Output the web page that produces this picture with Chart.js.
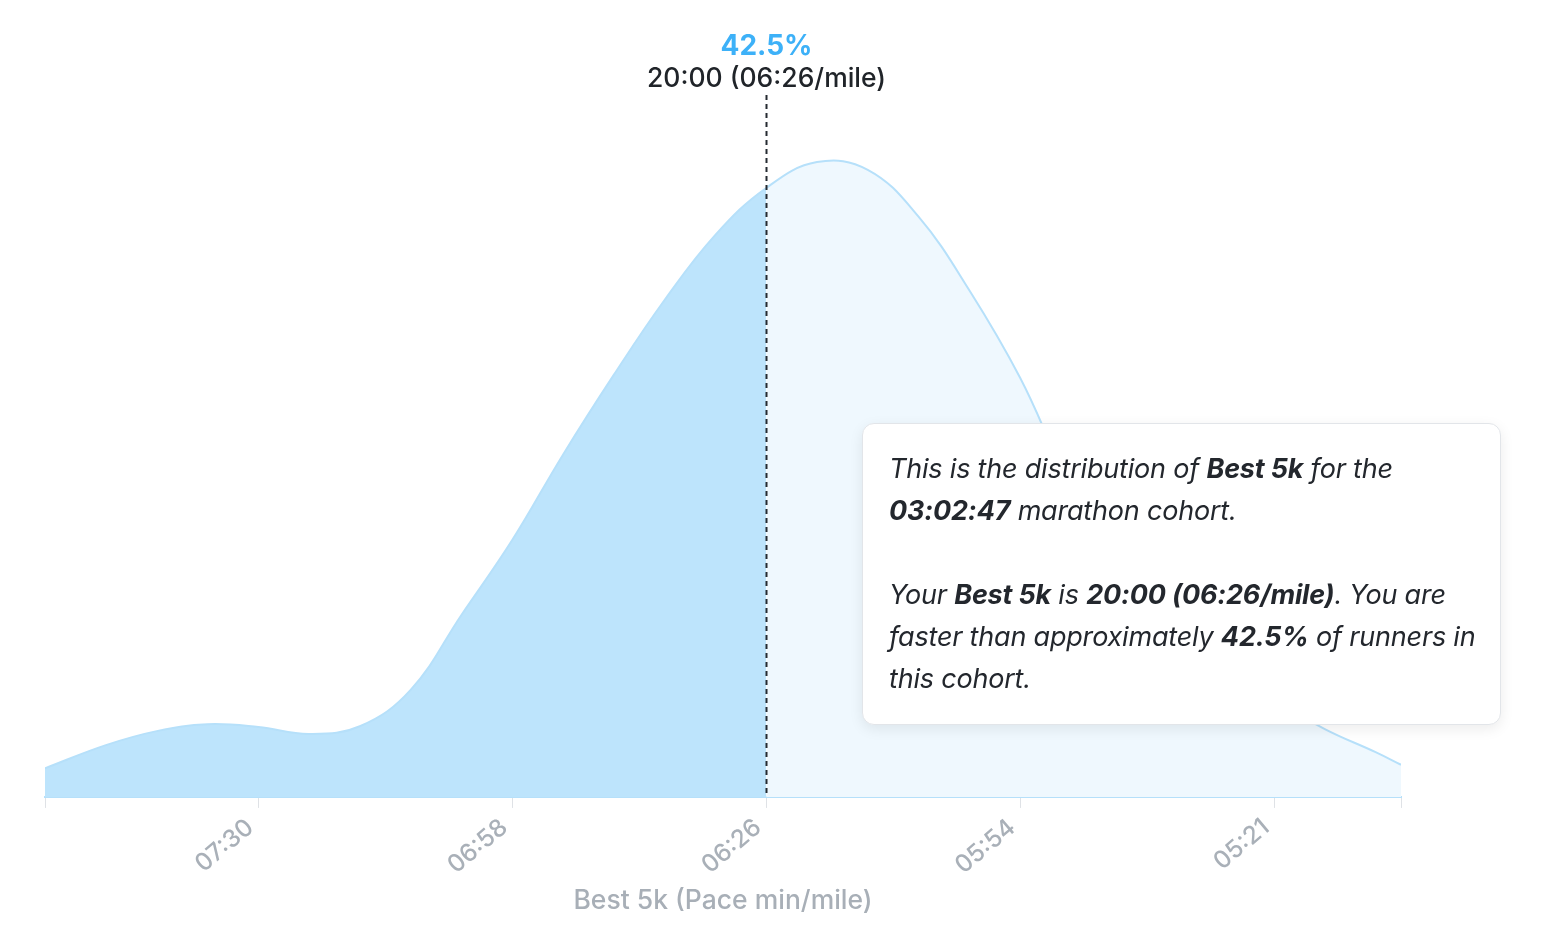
<!DOCTYPE html>
<html>
<head>
<meta charset="utf-8">
<script src="https://cdn.jsdelivr.net/npm/chart.js@4.4.1/dist/chart.umd.min.js"></script>
<style>
  body { margin: 0; background: #fff; font-family: Inter, "Noto Sans", sans-serif; }
  #wrap { position: relative; width: 1548px; height: 936px; }
  #note {
    position: absolute; left: 862px; top: 423px; width: 611px; height: 276px;
    padding: 24px 0 0 26px; background: #fff; border: 1px solid #e2e5e9;
    border-radius: 12px; box-shadow: 0 4px 14px rgba(0, 0, 0, 0.08);
    font-style: italic; font-size: 27px; line-height: 42px; color: #23272d;
    white-space: nowrap; box-sizing: content-box; letter-spacing: -0.2px;
  }
  #note b { font-weight: 700; }
</style>
</head>
<body>
<div id="wrap">
  <canvas id="chart"></canvas>
  <div id="note">
    This is the distribution of <b>Best 5k</b> for the<br>
    <b>03:02:47</b> marathon cohort.<br><br>
    Your <b>Best 5k</b> is <b>20:00 (06:26/mile)</b>. You are<br>
    faster than approximately <b>42.5%</b> of runners in<br>
    this cohort.
  </div>
</div>
<script>
// 5k finish time in seconds (x) and estimated density (y)
const times = [1484, 1460, 1440, 1420, 1400, 1380, 1360, 1340, 1320, 1300, 1280, 1260, 1240, 1220,
  1200, 1180, 1160, 1140, 1120, 1100, 1080, 1060, 1040, 1020, 1000, 980, 960, 950];
const density = [4.1, 7.4, 9.4, 10.4, 10.0, 9.0, 10.1, 15.3, 26.0, 36.7, 48.9, 60.3, 71.0, 80.3,
  87.0, 90.7, 89.6, 82.9, 72.4, 59.9, 44.6, 33.9, 25.3, 18.9, 13.9, 9.7, 6.4, 4.6];

const tickValues = [1484, 1400, 1300, 1200, 1100, 1000, 950];
const tickLabels = ["", "07:30", "06:58", "06:26", "05:54", "05:21", ""];

const myTime = 1200;
const myPercent = "42.5%";
const myLabel = "20:00 (06:26/mile)";

const darkFill = "#bde4fc";
const lightFill = "#eff8fe";
const lineColor = "#b6e0fa";

const points = times.map((t, i) => ({ x: t, y: density[i] }));
// vertical edges at both ends of the curve
const edges = [
  { x: times[0], y: 0 }, { x: times[0], y: density[0] },
  { x: myTime, y: null },
  { x: times[times.length - 1], y: density[density.length - 1] }, { x: times[times.length - 1], y: 0 },
];

const markerPlugin = {
  id: "marker",
  afterDatasetsDraw(chart) {
    const { ctx, chartArea, scales } = chart;
    const x = Math.round(scales.x.getPixelForValue(myTime)) + 0.5;
    ctx.save();
    ctx.strokeStyle = "#252a31";
    ctx.lineWidth = 2;
    ctx.setLineDash([5, 4]);
    ctx.beginPath();
    ctx.moveTo(x, 95);
    ctx.lineTo(x, chartArea.bottom);
    ctx.stroke();
    ctx.setLineDash([]);
    ctx.textAlign = "center";
    ctx.textBaseline = "middle";
    ctx.fillStyle = "#3db1f8";
    ctx.font = "bold 28px Inter";
    ctx.fillText(myPercent, x, 47);
    ctx.fillStyle = "#202429";
    ctx.font = "500 26.5px Inter";
    ctx.fillText(myLabel, x, 79);
    ctx.restore();
  },
};

new Chart(document.getElementById("chart"), {
  type: "line",
  data: {
    datasets: [
      {
        data: points,
        borderColor: lineColor,
        borderWidth: 2,
        backgroundColor: lightFill,
        fill: "origin",
        pointRadius: 0,
        tension: 0.4,
        segment: {
          backgroundColor: (c) => (c.p1.parsed.x >= myTime ? darkFill : lightFill),
        },
      },
      {
        data: edges,
        borderColor: lineColor,
        borderWidth: 2,
        fill: false,
        pointRadius: 0,
        tension: 0,
        spanGaps: false,
      },
    ],
  },
  options: {
    responsive: true,
    maintainAspectRatio: false,
    animation: false,
    events: [],
    layout: { padding: { left: 45, right: 147, top: 97, bottom: 19 } },
    plugins: { legend: { display: false }, tooltip: { enabled: false } },
    scales: {
      x: {
        type: "linear",
        reverse: true,
        min: 950,
        max: 1484,
        afterBuildTicks: (axis) => {
          axis.ticks = tickValues.map((v) => ({ value: v }));
        },
        border: { color: lineColor, width: 2 },
        grid: { drawOnChartArea: false, color: "#dfe2e6", tickLength: 11 },
        ticks: {
          autoSkip: false,
          minRotation: 40,
          maxRotation: 40,
          color: "#a9b0b8",
          font: { family: "Inter", size: 24.5, weight: "500" },
          padding: 5,
          labelOffset: -8,
          callback: (v) => tickLabels[tickValues.indexOf(v)] ?? "",
        },
        title: {
          display: true,
          text: "Best 5k (Pace min/mile)",
          color: "#a8afb7",
          font: { family: "Inter", size: 26.5, weight: "500" },
          padding: { top: 0, bottom: 0 },
        },
      },
      y: { display: false, min: 0, max: 100 },
    },
  },
  plugins: [markerPlugin],
});
</script>
</body>
</html>
